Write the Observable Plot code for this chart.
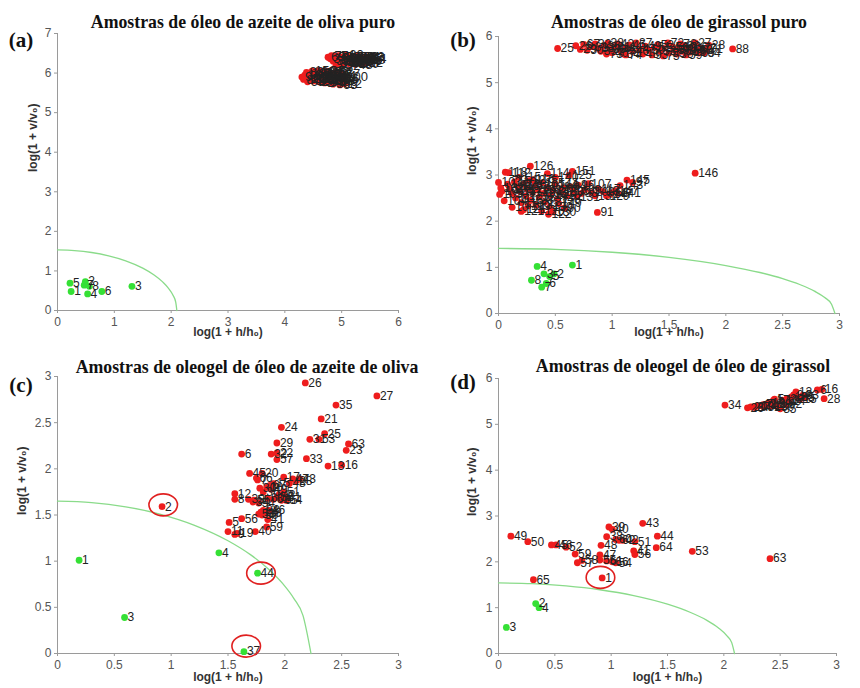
<!DOCTYPE html>
<html><head><meta charset="utf-8">
<script src="https://cdn.jsdelivr.net/npm/d3@7"></script>
<script src="https://cdn.jsdelivr.net/npm/@observablehq/plot@0.6"></script>
<style>
body{margin:0;background:#fff;}
#root{position:relative;width:860px;height:688px;background:#fff;overflow:hidden;}
.pl{position:absolute;}
.ttl{position:absolute;transform:translate(-50%,-50%);font-family:"Liberation Serif","Times New Roman",serif;font-weight:bold;font-size:17.8px;color:#111;white-space:nowrap;}
.tag{position:absolute;transform:translate(-50%,-50%);font-family:"Liberation Serif","Times New Roman",serif;font-weight:bold;font-size:21px;color:#111;}
</style></head>
<body><div id="root"></div>
<script>
// ---------- data ----------
const titles = ["Amostras de óleo de azeite de oliva puro","Amostras de óleo de girassol puro","Amostras de oleogel de óleo de azeite de oliva","Amostras de oleogel de óleo de girassol"];
const tags = ["(a)","(b)","(c)","(d)"];
const xLabel = "log(1 + h/h₀)";
const yLabel = "log(1 + v/v₀)";

const aTicksX = [0,1,2,3,4,5,6];
const aTicksY = [0,1,2,3,4,5,6,7];
const halfTicks = [0,0.5,1,1.5,2,2.5,3];
const sixTicks = [0,1,2,3,4,5,6];

// panel (a)
const aGreen = [[0.22,0.69,5],[0.24,0.48,1],[0.49,0.73,2],[0.47,0.64,7],[0.56,0.61,8],[0.53,0.42,4],[0.78,0.48,6],[1.31,0.61,3]];
const aRed = [
[4.80,6.36,31],[4.85,6.30,32],[4.88,6.42,33],[4.92,6.25,34],[4.95,6.38,35],[4.98,6.32,36],[5.00,6.22,37],[5.02,6.40,38],[5.05,6.28,39],[5.07,6.35,40],
[5.10,6.42,41],[5.12,6.24,42],[5.14,6.31,43],[5.16,6.38,44],[5.18,6.27,45],[5.20,6.34,46],[5.22,6.40,47],[5.24,6.22,48],[5.26,6.30,49],[5.28,6.37,50],
[5.30,6.26,51],[5.32,6.33,52],[5.34,6.40,53],[5.36,6.28,54],[5.38,6.35,55],[5.40,6.30,56],[5.43,6.38,57],[5.46,6.33,58],[4.90,6.20,59],[5.08,6.45,60],
[4.76,6.40,69],[4.82,6.44,70],[4.94,6.44,71],[4.97,6.27,72],[5.03,6.34,73],[5.09,6.30,74],[5.13,6.36,75],[5.19,6.42,76],[5.23,6.28,77],[5.27,6.42,78],
[5.31,6.36,79],[5.35,6.24,80],[5.39,6.40,81],[5.42,6.26,82],[5.45,6.40,83],[5.48,6.36,84],[5.01,6.30,85],[5.15,6.26,86],
[4.30,5.90,9],[4.35,5.95,10],[4.40,5.85,11],[4.42,6.00,13],[4.45,5.92,14],[4.48,6.05,15],[4.50,5.80,16],[4.53,5.97,17],[4.55,5.88,18],[4.58,6.03,19],
[4.60,5.78,20],[4.62,5.93,21],[4.65,6.00,22],[4.67,5.85,23],[4.70,5.75,24],[4.72,5.95,25],[4.75,6.05,26],[4.78,5.82,27],[4.80,5.90,28],[4.82,5.98,29],
[4.85,5.72,30],[4.88,5.87,61],[4.90,6.02,62],[4.92,5.80,63],[4.95,5.94,64],[4.97,5.70,65],[5.00,5.85,66],[5.02,5.97,67],[5.05,5.73,12],[4.40,5.78,68],
[4.33,5.84,87],[4.38,6.02,88],[4.46,5.86,89],[4.52,5.90,90],[4.57,5.82,91],[4.63,5.88,92],[4.68,5.96,93],[4.73,5.86,94],[4.77,5.77,95],[4.83,5.84,96],
[4.87,5.95,97],[4.93,5.88,98],[4.98,5.78,99],[5.03,5.90,100],[4.60,6.06,101],[4.70,6.02,102]];
const aCurve = [[0,1.53],[0.3,1.514],[0.6,1.466],[0.9,1.382],[1.2,1.256],[1.5,1.071],[1.7,0.898],[1.85,0.724],[1.95,0.568],[2.03,0.392],[2.08,0.211],[2.1,0]];

// panel (b)
const bGreen = [[0.34,1.02,4],[0.65,1.05,1],[0.40,0.86,3],[0.45,0.80,5],[0.49,0.86,2],[0.29,0.72,8],[0.38,0.57,7],[0.42,0.65,6]];
const bRedTop = [
[0.52,5.74,25],[0.68,5.80,26],[0.72,5.72,29],[0.75,5.83,67],[0.78,5.70,30],[0.82,5.78,31],[0.85,5.84,32],[0.88,5.74,33],[0.90,5.68,35],[0.93,5.80,36],
[0.96,5.85,38],[0.98,5.72,39],[1.00,5.65,40],[1.02,5.78,41],[1.05,5.84,42],[1.07,5.70,43],[1.10,5.62,34],[1.12,5.76,44],[1.15,5.82,45],[1.18,5.68,46],
[1.21,5.86,37],[1.24,5.73,47],[1.27,5.62,48],[1.29,5.79,49],[1.32,5.70,50],[1.35,5.60,93],[1.37,5.76,51],[1.40,5.82,52],[1.42,5.68,53],[1.45,5.74,54],
[1.49,5.86,72],[1.50,5.64,55],[1.53,5.78,56],[1.55,5.70,57],[1.57,5.62,58],[1.59,5.75,60],[1.61,5.68,61],[1.63,5.80,62],[1.65,5.60,59],[1.66,5.72,63],
[1.68,5.66,65],[1.70,5.76,66],[1.73,5.86,27],[1.74,5.70,68],[1.76,5.64,69],[1.78,5.74,70],[1.81,5.65,64],[1.83,5.72,71],[1.85,5.81,28],[2.06,5.73,88],
[0.95,5.62,73],[1.12,5.60,74],[1.45,5.58,75],[1.60,5.84,76]];
const bRedLow = [
[0.28,3.19,126],[0.06,3.06,118],[0.09,3.05,112],[0.43,3.03,114],[0.65,3.08,151],[0.62,2.99,125],[0.50,2.95,140],[0.18,2.95,115],[0.30,2.90,116],[0.79,2.81,107],
[1.13,2.89,145],[1.18,2.84,97],[1.07,2.77,143],[0.98,2.58,147],[0.69,2.53,131],[0.87,2.19,91],[0.44,2.15,122],[0.20,2.21,121],[1.73,3.04,146],
[0.00,2.84,103],[0.01,2.58,105],[0.05,2.44,104],[0.02,2.72,102],[0.03,2.65,101],
[0.08,2.80,106],[0.10,2.70,108],[0.12,2.60,109],[0.14,2.85,110],[0.15,2.50,111],[0.17,2.75,113],[0.19,2.65,117],[0.20,2.40,119],[0.22,2.80,120],[0.24,2.55,123],
[0.25,2.70,124],[0.27,2.88,127],[0.28,2.45,128],[0.30,2.62,129],[0.32,2.78,130],[0.33,2.35,132],[0.35,2.68,133],[0.36,2.52,134],[0.38,2.83,135],[0.40,2.60,136],
[0.41,2.42,137],[0.43,2.73,138],[0.45,2.30,139],[0.46,2.56,141],[0.48,2.66,142],[0.50,2.80,144],[0.52,2.48,148],[0.53,2.38,149],[0.55,2.63,150],[0.57,2.72,89],
[0.58,2.28,90],[0.60,2.55,92],[0.63,2.75,94],[0.66,2.65,95],[0.70,2.78,96],[0.73,2.60,98],[0.76,2.68,99],[0.82,2.62,100],[0.85,2.55,137],[0.88,2.70,117],
[0.92,2.64,13],[0.95,2.55,129],[1.00,2.62,14],[1.03,2.66,147],[1.05,2.60,141],[0.12,2.30,10],[0.22,2.25,121],[0.38,2.22,120],[0.26,2.33,119],[0.48,2.20,130]];
const bCurve = [[0,1.41],[0.5,1.39],[1,1.327],[1.5,1.216],[2,1.039],[2.3,0.888],[2.5,0.755],[2.65,0.628],[2.78,0.484],[2.87,0.345],[2.93,0.2],[2.96,0]];

// panel (c)
const cGreen = [[0.19,1.01,1],[0.59,0.39,3],[1.42,1.09,4],[1.76,0.87,44],[1.64,0.02,37]];
const cRed = [
[2.18,2.93,26],[2.81,2.79,27],[2.45,2.69,35],[2.32,2.54,21],[1.97,2.45,24],[2.35,2.38,25],[2.22,2.32,31],[2.30,2.32,53],[2.56,2.27,63],[2.54,2.20,23],
[1.93,2.28,29],[1.62,2.16,6],[1.88,2.16,32],[1.93,2.17,22],[1.93,2.10,57],[2.19,2.11,33],[2.38,2.03,13],[2.50,2.04,16],[1.69,1.95,45],[1.80,1.95,20],
[1.76,1.88,7],[1.99,1.91,17],[2.07,1.89,47],[2.13,1.89,43],[2.10,1.87,28],[2.04,1.84,48],[1.56,1.73,12],[1.56,1.67,8],[1.68,1.67,39],[1.72,1.64,34],
[1.77,1.63,54],[0.92,1.59,2],[1.51,1.42,5],[1.62,1.46,56],[1.50,1.32,11],[1.56,1.29,9],[1.58,1.30,19],[1.74,1.32,40],[1.84,1.37,59],[1.85,1.45,41],
[1.81,1.55,38],[1.77,1.51,58],[1.79,1.53,14],[1.84,1.80,10],[1.90,1.84,15],[1.78,1.79,30],[1.81,1.75,36],[1.93,1.69,52],[1.99,1.75,51],[2.00,1.69,61],
[2.01,1.66,64],[1.85,1.68,60],[1.90,1.67,62],[1.95,1.72,42],[1.88,1.78,49],[1.83,1.52,18],[1.86,1.55,46],[1.80,1.50,50],[1.73,1.66,55],[1.97,1.66,65],
[1.75,1.90,66],[1.87,1.82,67]];
const cCircles = [[0.93,1.61],[1.79,0.87],[1.66,0.08]];
const cCurve = [[0,1.65],[0.3,1.635],[0.6,1.589],[0.9,1.51],[1.2,1.391],[1.5,1.221],[1.7,1.068],[1.85,0.921],[1.98,0.759],[2.08,0.595],[2.16,0.41],[2.23,0]];

// panel (d)
const dGreen = [[0.33,1.09,2],[0.36,1.00,4],[0.07,0.57,3]];
const dRed = [
[0.11,2.56,49],[0.26,2.44,50],[0.47,2.37,45],[0.51,2.37,46],[0.60,2.32,52],[0.68,2.17,59],[0.74,2.03,58],[0.70,1.98,57],[0.31,1.61,65],[0.92,1.65,1],
[0.98,2.76,39],[1.01,2.71,40],[0.96,2.55,38],[1.04,2.49,60],[1.07,2.47,62],[1.10,2.47,42],[0.91,2.36,48],[1.21,2.44,51],[1.28,2.84,43],[1.41,2.56,44],
[1.40,2.31,64],[1.20,2.24,41],[1.21,2.16,56],[0.90,2.15,47],[0.90,2.04,55],[0.96,2.02,61],[1.01,2.00,66],[1.04,1.98,54],[1.72,2.23,53],[2.41,2.07,63],
[2.01,5.42,34],[2.21,5.36,26],[2.24,5.38,20],[2.27,5.37,27],[2.30,5.40,19],[2.33,5.41,21],[2.36,5.38,31],[2.38,5.44,23],[2.40,5.47,10],[2.42,5.40,11],
[2.44,5.52,17],[2.46,5.45,29],[2.48,5.38,30],[2.50,5.34,35],[2.52,5.53,13],[2.54,5.48,9],[2.56,5.56,22],[2.58,5.50,14],[2.60,5.60,18],[2.62,5.64,24],
[2.64,5.71,12],[2.66,5.60,25],[2.68,5.56,15],[2.70,5.63,33],[2.72,5.58,8],[2.55,5.43,32],[2.83,5.75,6],[2.87,5.76,16],[2.89,5.56,28],[2.35,5.43,7],[2.45,5.55,5]];
const dCircles = [[0.905,1.66]];
const dCurve = [[0,1.54],[0.3,1.524],[0.6,1.475],[0.9,1.391],[1.2,1.262],[1.5,1.075],[1.7,0.9],[1.85,0.723],[1.95,0.563],[2.03,0.38],[2.07,0.237],[2.095,0]];

// ---------- drawing ----------
const RED = "#ee1d1d", GREEN = "#35e035", CURVE = "#8adb8a", AXIS = "#9a9a9a", TICKTXT = "#555";
const ellipseSym = {draw(ctx, size){
  const r = Math.sqrt(size / Math.PI), rx = r * 1.3, ry = r, k = 0.5523;
  ctx.moveTo(rx, 0);
  ctx.bezierCurveTo(rx, ry*k, rx*k, ry, 0, ry);
  ctx.bezierCurveTo(-rx*k, ry, -rx, ry*k, -rx, 0);
  ctx.bezierCurveTo(-rx, -ry*k, -rx*k, -ry, 0, -ry);
  ctx.bezierCurveTo(rx*k, -ry, rx, -ry*k, rx, 0);
  ctx.closePath();
}};

function panel(o){
  const X = d => d[0], Y = d => d[1], T = d => String(d[2]);
  const plot = Plot.plot({
    width: 430, height: 344,
    marginLeft: o.m[0], marginRight: o.m[1], marginTop: o.m[2], marginBottom: o.m[3],
    x: {domain: o.xd}, y: {domain: o.yd},
    style: {fontFamily: "Liberation Sans, Arial, sans-serif", background: "transparent", overflow: "visible"},
    marks: [
      Plot.axisX({ticks: o.xt, tickFormat: d => String(d), tickSize: 3, tickPadding: 4, stroke: AXIS, fill: TICKTXT, fontSize: 12, label: null}),
      Plot.axisY({ticks: o.yt, tickFormat: d => String(d), tickSize: 3, tickPadding: 3, stroke: AXIS, fill: TICKTXT, fontSize: 12, label: null}),
      Plot.ruleY([o.yd[0]], {stroke: AXIS}),
      Plot.ruleX([o.xd[0]], {stroke: AXIS}),
      Plot.line(o.curve, {x: X, y: Y, stroke: CURVE, strokeWidth: 1.3, curve: "monotone-x"}),
      Plot.dot(o.red, {x: X, y: Y, r: 3.4, fill: RED}),
      Plot.dot(o.green, {x: X, y: Y, r: 3.4, fill: GREEN}),
      Plot.text(o.red, {x: X, y: Y, text: T, dx: 3, textAnchor: "start", fontSize: o.fs || 12, fill: "#222"}),
      Plot.text(o.green, {x: X, y: Y, text: T, dx: 3, textAnchor: "start", fontSize: 12, fill: "#222"}),
      Plot.dot(o.circles || [], {x: X, y: Y, r: 11, symbol: ellipseSym, stroke: "#e02020", strokeWidth: 1.6, fill: "none"}),
      Plot.text([yLabel], {frameAnchor: "left", rotate: -90, dx: o.ydx, fontWeight: "bold", fontSize: 12, fill: "#333"}),
      Plot.text([xLabel], {frameAnchor: "bottom", dy: o.xdy, fontWeight: "bold", fontSize: 12, fill: "#333"})
    ]
  });
  plot.classList.add("pl");
  plot.style.left = o.left + "px";
  plot.style.top = o.top + "px";
  return plot;
}

const root = document.getElementById("root");
root.appendChild(panel({left: 0, top: 0, m: [57, 32, 33, 34], xd: [0, 6], yd: [0, 7], xt: aTicksX, yt: aTicksY,
  red: aRed, green: aGreen, curve: aCurve, ydx: -24, xdy: 25, fs: 13}));
root.appendChild(panel({left: 430, top: 0, m: [68, 21, 36, 31], xd: [0, 3], yd: [0, 6], xt: halfTicks, yt: sixTicks,
  red: bRedTop.concat(bRedLow), green: bGreen, curve: bCurve, ydx: -26, xdy: 22}));
root.appendChild(panel({left: 0, top: 344, m: [57, 32, 32, 35], xd: [0, 3], yd: [0, 3], xt: halfTicks, yt: halfTicks,
  red: cRed, green: cGreen, curve: cCurve, circles: cCircles, ydx: -35, xdy: 27}));
root.appendChild(panel({left: 430, top: 344, m: [68, 24, 34, 35], xd: [0, 3], yd: [0, 6], xt: halfTicks, yt: sixTicks,
  red: dRed, green: dGreen, curve: dCurve, circles: dCircles, ydx: -26, xdy: 27}));

const tpos = [[243, 22], [679, 22], [247, 367], [683, 366]];
const gpos = [[21, 40], [463, 40], [21, 385], [463, 382]];
titles.forEach((t, i) => {
  const d = document.createElement("div"); d.className = "ttl"; d.textContent = t;
  d.style.left = tpos[i][0] + "px"; d.style.top = tpos[i][1] + "px"; root.appendChild(d);
  const g = document.createElement("div"); g.className = "tag"; g.textContent = tags[i];
  g.style.left = gpos[i][0] + "px"; g.style.top = gpos[i][1] + "px"; root.appendChild(g);
});
</script></body></html>
